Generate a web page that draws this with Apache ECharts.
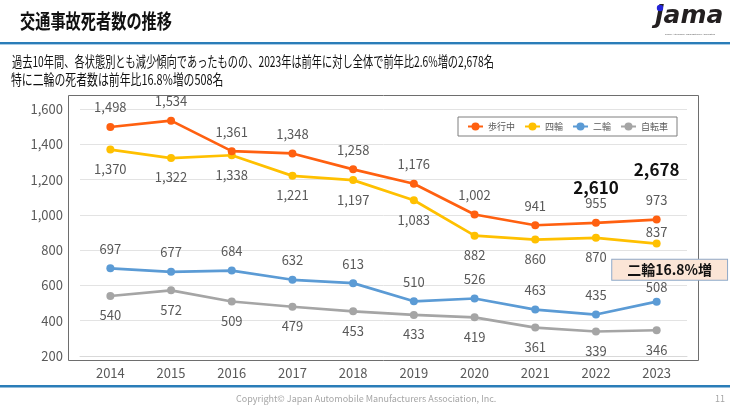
<!DOCTYPE html>
<html><head><meta charset="utf-8">
<script src="https://cdn.jsdelivr.net/npm/echarts@6/dist/echarts.min.js"></script>
<style>html,body{margin:0;padding:0;background:#fff}#c{width:730px;height:410px}</style>
</head><body><div id="c"></div>
<script>
const years = ['2014','2015','2016','2017','2018','2019','2020','2021','2022','2023'];
const seriesNames = ['歩行中','四輪','二輪','自転車'];
const pedestrian = [1498,1534,1361,1348,1258,1176,1002,941,955,973];
const car = [1370,1322,1338,1221,1197,1083,882,860,870,837];
const motorcycle = [697,677,684,632,613,510,526,463,435,508];
const bicycle = [540,572,509,479,453,433,419,361,339,346];
const totalYears = ['2022','2023'];
const totals = [2610,2678];
const yMin = 200, yMax = 1600, yStep = 200;

const FONT = '"Noto Sans CJK JP","Noto Sans",sans-serif';
const fmt = v => Number(v).toLocaleString('en-US');
const chart = echarts.init(document.getElementById('c'), null, {renderer:'canvas'});

function lineSeries(name, data, color, pos, extra) {
  return Object.assign({
    name, type:'line', data, color,
    symbol:'circle', symbolSize:8,
    lineStyle:{width:2.7, color},
    itemStyle:{color},
    label:{show:true, position:pos, distance:9, fontSize:13, color:'#595959', fontFamily:FONT,
      formatter:p => fmt(p.value)}
  }, extra||{});
}

const carData = car.map((v,i)=> i===car.length-1 ? {value:v, label:{position:'top', distance:1}} : v);
const motoData = motorcycle.map((v,i)=> i===motorcycle.length-1 ? {value:v, label:{distance:4}} : v);

chart.setOption({
  backgroundColor:'#fff',
  animation:false,
  textStyle:{fontFamily:FONT},
  grid:{left:80, right:43, top:109, bottom:54},
  legend:{
    data:seriesNames, left:458, top:117,
    itemWidth:15, itemHeight:10, itemGap:9, padding:[5,9],
    borderColor:'#7f7f7f', borderWidth:1, backgroundColor:'#fff',
    textStyle:{fontSize:9, color:'#595959', fontFamily:FONT}
  },
  xAxis:{
    type:'category', data:years, boundaryGap:true,
    axisLine:{show:true, lineStyle:{color:'#D9D9D9'}}, axisTick:{show:false},
    axisLabel:{fontSize:13, color:'#595959', margin:11, fontFamily:FONT}
  },
  yAxis:{
    type:'value', min:yMin, max:yMax, interval:yStep,
    axisLine:{show:false}, axisTick:{show:false},
    splitLine:{lineStyle:{color:'#E3E3E3', width:1}},
    axisLabel:{fontSize:13, color:'#595959', margin:17, fontFamily:FONT, formatter:v=>fmt(v)}
  },
  series:[
    lineSeries('歩行中', pedestrian, '#FF6010', 'top', {
      z:5,
      markPoint:{
        symbol:'circle', symbolSize:0,
        label:{show:true, position:'inside', fontSize:17, fontWeight:'bold', color:'#111', fontFamily:FONT,
          formatter:p=>fmt(p.value)},
        data: totals.map((t,i)=>{
          const idx = years.indexOf(totalYears[i]);
          return {coord:[totalYears[i], pedestrian[idx]], value:t, label:{offset:[0, i===0?-35:-50]}};
        })
      }
    }),
    lineSeries('四輪', carData, '#FFC000', 'bottom', {z:4}),
    lineSeries('二輪', motoData, '#5B9BD5', 'top', {
      z:6,
      markPoint:{
        symbol:'circle', symbolSize:0,
        label:{show:true, position:'inside', offset:[13,-32], formatter:'二輪16.8%増',
          fontSize:14, fontWeight:'bold', color:'#111', fontFamily:FONT,
          backgroundColor:'#FBE5D6', borderColor:'#8FA9C8', borderWidth:1, padding:[3,15]},
        data:[{coord:['2023', motorcycle[motorcycle.length-1]], value:motorcycle[motorcycle.length-1]}]
      }
    }),
    lineSeries('自転車', bicycle, '#A5A5A5', 'bottom', {z:3})
  ],
  graphic:[
    {type:'text', left:20, top:11, scaleX:0.76, style:{text:'交通事故死者数の推移', fontSize:20, fontWeight:'bold', fill:'#111', fontFamily:FONT}},
    {type:'text', left:655, top:4, style:{text:'jama', fontSize:25, fontWeight:'bold', fontStyle:'italic', fill:'#231F20', fontFamily:'"DejaVu Sans",sans-serif'}},
    {type:'circle', shape:{cx:660, cy:8, r:3.2}, style:{fill:'#2424D8'}},
    {type:'text', left:665, top:33, style:{text:'Japan Automobile Manufacturers Association', fontSize:2.5, fill:'#555'}},
    {type:'rect', shape:{x:0, y:42, width:730, height:2}, style:{fill:'#2A7DB8'}},
    {type:'rect', shape:{x:0, y:44, width:730, height:1}, style:{fill:'#A9CCE6'}},
    {type:'text', left:12, top:54, scaleX:0.705, style:{text:'過去10年間、各状態別とも減少傾向であったものの、2023年は前年に対し全体で前年比2.6%増の2,678名', fontSize:14.5, fill:'#111', fontFamily:FONT}},
    {type:'text', left:11, top:72, scaleX:0.75, style:{text:'特に二輪の死者数は前年比16.8%増の508名', fontSize:14.5, fill:'#111', fontFamily:FONT}},
    {type:'rect', shape:{x:68.5, y:95.5, width:630, height:265}, style:{fill:'none', stroke:'#6E6E6E', lineWidth:1}, z:-1},
    {type:'rect', shape:{x:0, y:385, width:730, height:2.5}, style:{fill:'#2A7DB8'}},
    {type:'text', left:236, top:394, style:{text:'Copyright© Japan Automobile Manufacturers Association, Inc.', fontSize:9, fill:'#A6A6A6', fontFamily:FONT}},
    {type:'text', left:715, top:394, style:{text:'11', fontSize:9, fill:'#A6A6A6', fontFamily:FONT}}
  ]
});
</script></body></html>
